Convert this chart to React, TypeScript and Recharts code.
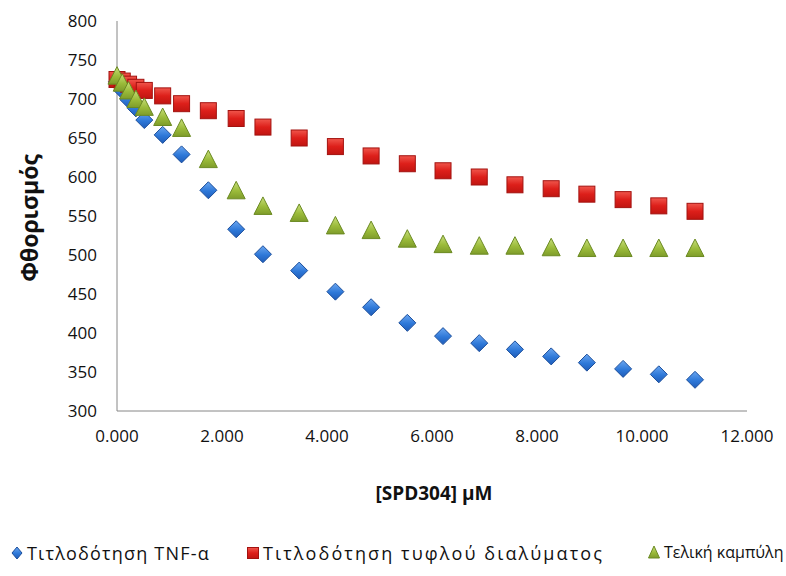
import React from 'react';
import { ScatterChart, Scatter, XAxis, YAxis, Legend } from 'recharts';

// [SPD304] concentrations (μM) of each titration step
const concentrations = [0, 0.1, 0.22, 0.36, 0.52, 0.87, 1.23, 1.74, 2.27, 2.78, 3.47, 4.16, 4.84, 5.53, 6.21, 6.9, 7.58, 8.27, 8.95, 9.64, 10.32, 11.01];
const tnfTitration = [722, 711, 699, 688, 673, 654, 629, 583, 533, 501, 480, 453, 433, 413, 396, 387, 379, 370, 362, 354, 347, 340];
const blankTitration = [725, 723, 719, 715, 711, 704, 694, 685, 675, 664, 650, 639, 627, 617, 608, 600, 590, 585, 578, 571, 563, 556];
const finalCurve = [728, 719, 709, 698, 688, 675, 661, 621, 581, 561, 552, 536, 530, 519, 512, 510, 510, 508, 507, 507, 507, 507];

const xTicks = [0, 2, 4, 6, 8, 10, 12];
const yTicks = [300, 350, 400, 450, 500, 550, 600, 650, 700, 750, 800];

const seriesNames = ['Τιτλοδότηση TNF-α', 'Τιτλοδότηση τυφλού διαλύματος', 'Τελική καμπύλη'];

const toPoints = (values: number[]) => concentrations.map((x, i) => ({ x, y: values[i] }));

const FONT = '"Open Sans", "DejaVu Sans", sans-serif';

const Diamond = (props: any) => {
  const { cx, cy } = props;
  const r = 8.5;
  return (
    <path
      d={`M${cx},${cy - r} L${cx + r},${cy} L${cx},${cy + r} L${cx - r},${cy} Z`}
      fill="url(#gBlue)"
      stroke="#1d4f9c"
      strokeWidth={1}
    />
  );
};

const Square = (props: any) => {
  const { cx, cy } = props;
  const s = 16;
  return (
    <rect x={cx - s / 2} y={cy - s / 2} width={s} height={s} fill="url(#gRed)" stroke="#a3120f" strokeWidth={1} />
  );
};

const Triangle = (props: any) => {
  const { cx, cy } = props;
  return (
    <path
      d={`M${cx},${cy - 10.5} L${cx + 9},${cy + 7} L${cx - 9},${cy + 7} Z`}
      fill="url(#gGreen)"
      stroke="#6b8a22"
      strokeWidth={1}
    />
  );
};

// legend layout tuned to the reference widths
const legendItems = [
  { left: 11, marker: 'diamond', size: 18, spacing: 1.2 },
  { left: 247, marker: 'square', size: 18, spacing: 2.1 },
  { left: 648, marker: 'triangle', size: 16, spacing: 0 },
];

const LegendMarker = ({ kind }: { kind: string }) => (
  <svg width={12} height={14} style={{ display: 'block' }}>
    {kind === 'diamond' && <path d="M6,1 L11,7 L6,13 L1,7 Z" fill="url(#gBlue)" stroke="#1d4f9c" />}
    {kind === 'square' && <rect x={0.5} y={1.5} width={11} height={11} fill="url(#gRed)" stroke="#a3120f" />}
    {kind === 'triangle' && <path d="M6,1 L11.5,13 L0.5,13 Z" fill="url(#gGreen)" stroke="#6b8a22" />}
  </svg>
);

const renderLegend = () => (
  <div style={{ position: 'relative', width: 786, height: 30, fontFamily: FONT, color: '#111' }}>
    {legendItems.map((item, i) => (
      <div
        key={seriesNames[i]}
        style={{ position: 'absolute', left: item.left, top: 3, display: 'flex', alignItems: 'center', whiteSpace: 'nowrap' }}
      >
        <LegendMarker kind={item.marker} />
        <span style={{ marginLeft: 4, fontSize: item.size, letterSpacing: item.spacing }}>{seriesNames[i]}</span>
      </div>
    ))}
  </div>
);

export default function App() {
  return (
    <div style={{ position: 'absolute', left: 0, top: 0, width: 786, height: 576, background: '#fff' }}>
      <svg width={0} height={0} style={{ position: 'absolute' }}>
        <defs>
          <linearGradient id="gBlue" x1="0" y1="0" x2="0" y2="1">
            <stop offset="0%" stopColor="#6aa6f0" />
            <stop offset="55%" stopColor="#2e78d8" />
            <stop offset="100%" stopColor="#1f5cb8" />
          </linearGradient>
          <linearGradient id="gRed" x1="0" y1="0" x2="0" y2="1">
            <stop offset="0%" stopColor="#f0564c" />
            <stop offset="50%" stopColor="#dd1f1a" />
            <stop offset="100%" stopColor="#c01511" />
          </linearGradient>
          <linearGradient id="gGreen" x1="0" y1="0" x2="0" y2="1">
            <stop offset="0%" stopColor="#c9df7c" />
            <stop offset="55%" stopColor="#9bbb3a" />
            <stop offset="100%" stopColor="#7e9c2a" />
          </linearGradient>
        </defs>
      </svg>
      <ScatterChart width={786} height={576} margin={{ top: 21, right: 39, bottom: 135, left: 0 }}>
        <XAxis
          type="number"
          dataKey="x"
          domain={[0, 12]}
          ticks={xTicks}
          tickFormatter={(v: number) => v.toFixed(3)}
          height={30}
          tickLine={false}
          tickSize={0}
          tickMargin={19}
          axisLine={{ stroke: '#868686' }}
          tick={{ fill: '#111', fontSize: 17, fontFamily: FONT }}
          label={{
            content: () => (
              <text x={434} y={500} textAnchor="middle" fontFamily={FONT} fontWeight="bold" fontSize={19} fill="#111">
                [SPD304] μM
              </text>
            ),
          }}
        />
        <YAxis
          type="number"
          dataKey="y"
          domain={[300, 800]}
          ticks={yTicks}
          width={117}
          tickLine={false}
          tickSize={0}
          tickMargin={20}
          axisLine={{ stroke: '#868686' }}
          tick={{ fill: '#111', fontSize: 17, fontFamily: FONT }}
          label={{
            content: () => (
              <text
                x={29}
                y={218}
                transform="rotate(-90 29 218)"
                textAnchor="middle"
                dominantBaseline="central"
                fontFamily={FONT}
                fontWeight="bold"
                fontSize={23}
                fill="#111"
              >
                Φθορισμός
              </text>
            ),
          }}
        />
        <Legend
          verticalAlign="middle"
          align="center"
          content={renderLegend}
          wrapperStyle={{ position: 'absolute', left: 0, top: 538, width: 786, height: 30 }}
        />
        <Scatter name={seriesNames[0]} data={toPoints(tnfTitration)} shape={Diamond} isAnimationActive={false} />
        <Scatter name={seriesNames[1]} data={toPoints(blankTitration)} shape={Square} isAnimationActive={false} />
        <Scatter name={seriesNames[2]} data={toPoints(finalCurve)} shape={Triangle} isAnimationActive={false} />
      </ScatterChart>
    </div>
  );
}
